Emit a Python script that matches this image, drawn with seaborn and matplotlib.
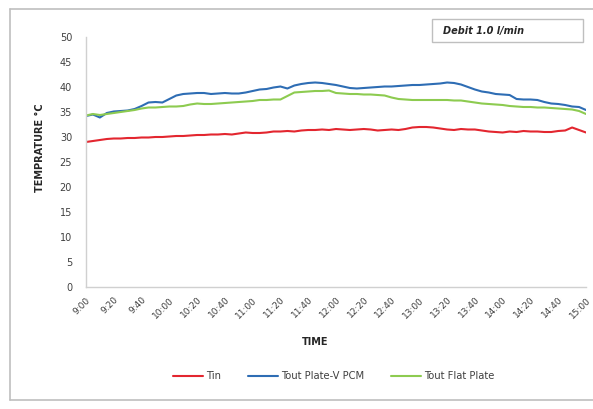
import numpy as np
import pandas as pd
import matplotlib
matplotlib.use("Agg")
import matplotlib.pyplot as plt
from matplotlib.patches import Rectangle
from matplotlib.lines import Line2D
import seaborn as sns

# ---- data (5-minute readings from 9:00 to 15:00) ----
minutes = list(range(0, 361, 5))

tin = [29.0, 29.2, 29.4, 29.6, 29.7, 29.7, 29.8, 29.8, 29.9, 29.9,
       30.0, 30.0, 30.1, 30.2, 30.2, 30.3, 30.4, 30.4, 30.5, 30.5,
       30.6, 30.5, 30.7, 30.9, 30.8, 30.8, 30.9, 31.1, 31.1, 31.2,
       31.1, 31.3, 31.4, 31.4, 31.5, 31.4, 31.6, 31.5, 31.4, 31.5,
       31.6, 31.5, 31.3, 31.4, 31.5, 31.4, 31.6, 31.9, 32.0, 32.0,
       31.9, 31.7, 31.5, 31.4, 31.6, 31.5, 31.5, 31.3, 31.1, 31.0,
       30.9, 31.1, 31.0, 31.2, 31.1, 31.1, 31.0, 31.0, 31.2, 31.3,
       31.9, 31.4, 30.9]

tout_pcm = [34.2, 34.5, 33.9, 34.8, 35.1, 35.2, 35.3, 35.6, 36.2, 36.9,
            37.0, 36.9, 37.6, 38.3, 38.6, 38.7, 38.8, 38.8, 38.6, 38.7,
            38.8, 38.7, 38.7, 38.9, 39.2, 39.5, 39.6, 39.9, 40.1, 39.7,
            40.3, 40.6, 40.8, 40.9, 40.8, 40.6, 40.4, 40.1, 39.8, 39.7,
            39.8, 39.9, 40.0, 40.1, 40.1, 40.2, 40.3, 40.4, 40.4, 40.5,
            40.6, 40.7, 40.9, 40.8, 40.5, 40.0, 39.5, 39.1, 38.9, 38.6,
            38.5, 38.4, 37.6, 37.5, 37.5, 37.4, 37.0, 36.7, 36.6, 36.4,
            36.1, 36.0, 35.4]

tout_flat = [34.3, 34.6, 34.4, 34.6, 34.8, 35.0, 35.2, 35.4, 35.7, 35.9,
             35.9, 36.0, 36.1, 36.1, 36.2, 36.5, 36.7, 36.6, 36.6, 36.7,
             36.8, 36.9, 37.0, 37.1, 37.2, 37.4, 37.4, 37.5, 37.5, 38.2,
             38.9, 39.0, 39.1, 39.2, 39.2, 39.3, 38.8, 38.7, 38.6, 38.6,
             38.5, 38.5, 38.4, 38.3, 37.9, 37.6, 37.5, 37.4, 37.4, 37.4,
             37.4, 37.4, 37.4, 37.3, 37.3, 37.1, 36.9, 36.7, 36.6, 36.5,
             36.4, 36.2, 36.1, 36.0, 36.0, 35.9, 35.9, 35.8, 35.7, 35.6,
             35.5, 35.2, 34.6]

series_names = ["Tin", "Tout Plate-V PCM", "Tout Flat Plate"]
tick_minutes = list(range(0, 361, 20))
tick_labels = ["9:00", "9:20", "9:40", "10:00", "10:20", "10:40", "11:00",
               "11:20", "11:40", "12:00", "12:20", "12:40", "13:00", "13:20",
               "13:40", "14:00", "14:20", "14:40", "15:00"]
y_ticks = list(range(0, 51, 5))

colors = ["#E3262F", "#2E6DB4", "#8DCB50"]

df = pd.DataFrame({
    "minute": minutes * 3,
    "value": tin + tout_pcm + tout_flat,
    "series": [series_names[0]] * len(minutes)
              + [series_names[1]] * len(minutes)
              + [series_names[2]] * len(minutes),
})

# ---- figure ----
sns.set_theme(style="white")
plt.rcParams["font.family"] = ["DejaVu Sans"]

W, H = 593, 409
fig = plt.figure(figsize=(W / 100, H / 100), dpi=100)
fig.patch.set_facecolor("white")

def fx(px):
    return px / W

def fy(py):
    return 1 - py / H

ax = fig.add_axes([fx(86), fy(287), fx(586) - fx(86), fy(37) - fy(287)])

sns.lineplot(data=df, x="minute", y="value", hue="series",
             palette=dict(zip(series_names, colors)), linewidth=1.5,
             legend=False, ax=ax)

ax.set_xlim(0, 360)
ax.set_ylim(0, 50)
ax.set_yticks(y_ticks)
ax.set_yticklabels([str(v) for v in y_ticks], fontsize=7, color="#404040")
ax.set_xticks(tick_minutes)
ax.set_xticklabels(tick_labels, rotation=45, ha="right", rotation_mode="anchor",
                   fontsize=6.5, color="#404040")
ax.tick_params(axis="y", length=0, pad=10)
ax.tick_params(axis="x", length=0, pad=6)

for s in ["top", "right"]:
    ax.spines[s].set_visible(False)
for s in ["left", "bottom"]:
    ax.spines[s].set_color("#D0D0D0")
    ax.spines[s].set_linewidth(1.0)

ax.set_xlabel("")
ax.set_ylabel("")

fig.text(fx(40), fy(148), "TEMPRATURE °C", rotation=90, ha="center", va="center",
         fontsize=7, fontweight="bold", color="#262626")
fig.text(fx(315), fy(342), "TIME", ha="center", va="center",
         fontsize=7, fontweight="bold", color="#262626")

# legend
handles = [Line2D([0], [0], color=c, lw=1.5) for c in colors]
fig.legend(handles, series_names, loc="center", bbox_to_anchor=(fx(334), fy(376)),
           ncol=3, frameon=False, fontsize=7.2, handlelength=3.0,
           columnspacing=2.7, handletextpad=0.3, labelcolor="#404040")

# annotation box
fig.patches.append(Rectangle((fx(432), fy(42)), fx(583) - fx(432), fy(19) - fy(42),
                             transform=fig.transFigure, fill=False,
                             edgecolor="#BFBFBF", linewidth=1.0))
fig.text(fx(443), fy(31), "Debit 1.0 l/min", ha="left", va="center",
         fontsize=7, fontweight="bold", fontstyle="italic", color="#262626")

# outer chart border
fig.lines.append(Line2D([fx(10), fx(593)], [fy(9), fy(9)], transform=fig.transFigure,
                        color="#BFBFBF", lw=1.2))
fig.lines.append(Line2D([fx(10), fx(10)], [fy(9), fy(400)], transform=fig.transFigure,
                        color="#BFBFBF", lw=1.2))
fig.lines.append(Line2D([fx(10), fx(593)], [fy(400), fy(400)], transform=fig.transFigure,
                        color="#BFBFBF", lw=1.2))

fig.savefig("out.png", dpi=100)
